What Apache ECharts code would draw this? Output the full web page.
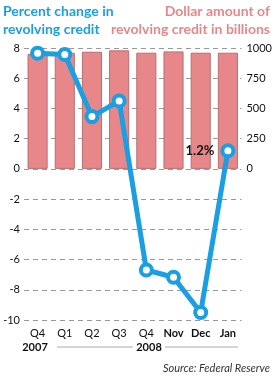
<!DOCTYPE html>
<html><head><meta charset="utf-8">
<script src="https://cdn.jsdelivr.net/npm/echarts@6/dist/echarts.min.js"></script>
<style>html,body{margin:0;padding:0;background:#fff}#c{width:275px;height:376px}</style>
</head><body><div id="c"></div>
<script>
const categories = ['Q4','Q1','Q2','Q3','Q4','Nov','Dec','Jan'];
const dollarBillions = [950, 961, 969, 981, 961, 972, 961, 961];
const percentChange = [7.66, 7.57, 3.46, 4.5, -6.69, -7.17, -9.5, 1.2];
const years = ['2007', '2008'];
const leftTitle = 'Percent change in\nrevolving credit';
const rightTitle = 'Dollar amount of\nrevolving credit in billions';
const source = 'Source: Federal Reserve';

const BLUE = '#1a9fe2', PINK = '#e8878a', FONT = 'Lato';
const chart = echarts.init(document.getElementById('c'));
chart.setOption({
  animation: false,
  textStyle: {fontFamily: FONT},
  grid: {left: 24, right: 32, top: 48, bottom: 56},
  xAxis: {
    type: 'category', data: categories,
    axisLine: {show: false}, axisTick: {show: false},
    axisLabel: {
      interval: 0, margin: 8, color: '#111', fontSize: 11,
      formatter: (v, i) => i >= 5 ? '{b|' + v + '}' : v,
      rich: {b: {fontWeight: 'bold', fontSize: 11, color: '#111'}}
    }
  },
  yAxis: [
    {type: 'value', min: -10, max: 8, interval: 2, position: 'left',
     axisLine: {show: false}, axisTick: {show: false},
     axisLabel: {color: '#111', fontSize: 11, margin: 4},
     splitLine: {lineStyle: {color: '#999', type: [5, 4], width: 1}}},
    {type: 'value', min: -1250, max: 1000, interval: 250, position: 'right',
     axisLine: {show: false}, axisTick: {show: false}, splitLine: {show: false},
     axisLabel: {color: '#111', fontSize: 11, margin: 5, formatter: v => v >= 0 ? String(v) : ''}}
  ],
  series: [
    {type: 'bar', yAxisIndex: 1, data: dollarBillions, barCategoryGap: '26%',
     itemStyle: {color: PINK, borderColor: '#b86f70', borderWidth: 1}},
    {type: 'line', yAxisIndex: 0, data: percentChange,
     lineStyle: {color: BLUE, width: 5},
     symbol: 'circle', symbolSize: 11,
     itemStyle: {color: '#fff', borderColor: BLUE, borderWidth: 4},
     label: {show: true, position: 'left', distance: 6, color: '#111', fontWeight: 'bold', fontSize: 13,
       formatter: p => p.dataIndex === percentChange.length - 1 ? p.value + '%' : ''}}
  ],
  graphic: [
    {type: 'text', x: 3, y: 2, style: {text: leftTitle, font: 'bold 14px ' + FONT, fill: BLUE, lineHeight: 18, align: 'left', verticalAlign: 'top'}},
    {type: 'text', x: 270, y: 2, style: {text: rightTitle, font: 'bold 14px ' + FONT, fill: PINK, lineHeight: 18, align: 'right', verticalAlign: 'top'}},
    {type: 'text', x: 35, y: 347, style: {text: years[0], font: 'bold 11px ' + FONT, fill: '#111', align: 'center', verticalAlign: 'middle'}},
    {type: 'line', shape: {x1: 57, y1: 347, x2: 133, y2: 347}, style: {stroke: '#aaa', lineWidth: 1}},
    {type: 'text', x: 149, y: 347, style: {text: years[1], font: 'bold 11px ' + FONT, fill: '#111', align: 'center', verticalAlign: 'middle'}},
    {type: 'line', shape: {x1: 165, y1: 347, x2: 238, y2: 347}, style: {stroke: '#aaa', lineWidth: 1}},
    {type: 'text', x: 270, y: 368, style: {text: source, font: 'italic 11px ' + FONT, fill: '#333', align: 'right', verticalAlign: 'middle'}}
  ]
});
</script></body></html>
